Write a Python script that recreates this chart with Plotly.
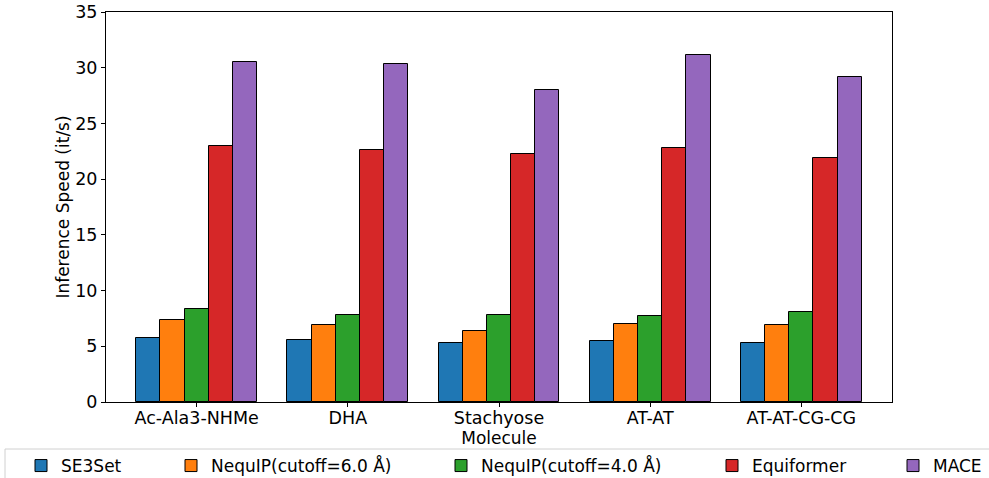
import plotly.graph_objects as go

categories = ["Ac-Ala3-NHMe", "DHA", "Stachyose", "AT-AT", "AT-AT-CG-CG"]
series_names = ["SE3Set", "NequIP(cutoff=6.0 Å)", "NequIP(cutoff=4.0 Å)", "Equiformer", "MACE"]
se3set = [5.72, 5.57, 5.33, 5.50, 5.33]
nequip6 = [7.36, 6.94, 6.40, 7.03, 6.91]
nequip4 = [8.35, 7.78, 7.81, 7.72, 8.05]
equiformer = [23.0, 22.59, 22.26, 22.77, 21.90]
mace = [30.55, 30.31, 28.0, 31.15, 29.15]
colors = ["#1f77b4", "#ff7f0e", "#2ca02c", "#d62728", "#9467bd"]
y_ticks = [0, 5, 10, 15, 20, 25, 30, 35]

# legend entry left positions (px) inside the shared legend strip
legend_x_px = [21, 171, 441, 712, 893]

W, H = 989, 478
ML, MR, MT, MB = 106, 97, 12, 76
PW, PH = W - ML - MR, H - MT - MB

values = [se3set, nequip6, nequip4, equiformer, mace]
width = 0.16
n = len(values)

tick_font = dict(family="DejaVu Sans", size=17.5, color="black")
title_font = dict(family="DejaVu Sans", size=17, color="black")
legend_font = dict(family="DejaVu Sans", size=17, color="black")

fig = go.Figure()
legend_layouts = {}
for i, (name, vals, col) in enumerate(zip(series_names, values, colors)):
    offs = (i - (n - 1) / 2) * width
    lname = "legend" if i == 0 else f"legend{i + 1}"
    fig.add_trace(go.Bar(
        x=[j + offs for j in range(len(categories))],
        y=vals,
        name=name,
        width=width,
        legend=lname,
        marker=dict(color=col, line=dict(color="black", width=1)),
    ))
    legend_layouts[lname] = dict(
        orientation="h", xref="container", yref="container",
        x=legend_x_px[i] / W, y=1 - 466 / H, xanchor="left", yanchor="middle",
        bgcolor="rgba(0,0,0,0)", borderwidth=0, font=legend_font,
        itemwidth=30,
    )

fig.update_layout(
    width=W, height=H,
    margin=dict(l=ML, r=MR, t=MT, b=MB),
    paper_bgcolor="white", plot_bgcolor="white",
    font=tick_font,
    bargap=0,
    showlegend=True,
    **legend_layouts,
    xaxis=dict(
        range=[-0.6, 4.6], automargin=False,
        tickmode="array", tickvals=list(range(len(categories))), ticktext=categories,
        ticks="outside", ticklen=4, tickcolor="black", ticklabelstandoff=-4,
        showline=True, linecolor="black", linewidth=1, mirror=True,
        showgrid=False, zeroline=False,
        title=dict(text="Molecule", font=title_font, standoff=4),
        tickfont=tick_font,
    ),
    yaxis=dict(
        range=[0, 35], automargin=False,
        tickmode="array", tickvals=y_ticks,
        ticks="outside", ticklen=4, tickcolor="black",
        showline=True, linecolor="black", linewidth=1, mirror=True,
        showgrid=False, zeroline=False,
        title=dict(text="Inference Speed (it/s)", font=title_font, standoff=1),
        tickfont=tick_font,
    ),
    shapes=[dict(
        type="rect", xref="paper", yref="paper", layer="below",
        x0=(5 - ML) / PW, x1=(995 - ML) / PW,
        y0=(H - MB - 449) / PH, y1=(H - MB - 500) / PH,
        line=dict(color="#d0d0d0", width=1), fillcolor="rgba(255,255,255,0.8)",
    )],
)

fig.write_html("out.html", config={"displayModeBar": False},
               post_script="document.body.style.margin='0';")
